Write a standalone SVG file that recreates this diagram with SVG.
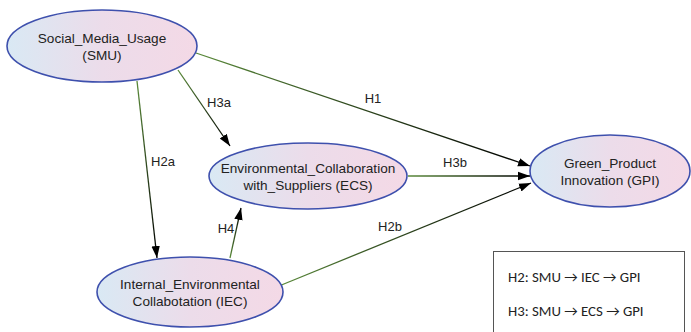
<svg xmlns="http://www.w3.org/2000/svg" width="691" height="332" viewBox="0 0 691 332">
<defs>
<linearGradient id="fillg" x1="0" y1="0" x2="1" y2="0">
<stop offset="0" stop-color="#d9e9f4"/>
<stop offset="0.5" stop-color="#ecdcea"/>
<stop offset="1" stop-color="#f4d9e6"/>
</linearGradient>
<marker id="arr" viewBox="0 0 12 10" refX="12" refY="5" markerWidth="12" markerHeight="10" markerUnits="userSpaceOnUse" orient="auto">
<path d="M0,0.8 L12,5 L0,9.2 z" fill="#000"/>
</marker>
<linearGradient id="g1" gradientUnits="userSpaceOnUse" x1="196" y1="53" x2="530" y2="166"><stop offset="0" stop-color="#5a8a3a"/><stop offset="1" stop-color="#000"/></linearGradient>
<linearGradient id="g2" gradientUnits="userSpaceOnUse" x1="178" y1="70" x2="230" y2="146"><stop offset="0" stop-color="#5a8a3a"/><stop offset="1" stop-color="#000"/></linearGradient>
<linearGradient id="g3" gradientUnits="userSpaceOnUse" x1="137" y1="81" x2="157" y2="258"><stop offset="0" stop-color="#5a8a3a"/><stop offset="1" stop-color="#000"/></linearGradient>
<linearGradient id="g4" gradientUnits="userSpaceOnUse" x1="408" y1="176" x2="530" y2="176"><stop offset="0" stop-color="#5a8a3a"/><stop offset="1" stop-color="#000"/></linearGradient>
<linearGradient id="g5" gradientUnits="userSpaceOnUse" x1="230" y1="258" x2="241" y2="208"><stop offset="0" stop-color="#5a8a3a"/><stop offset="1" stop-color="#000"/></linearGradient>
<linearGradient id="g6" gradientUnits="userSpaceOnUse" x1="279" y1="286" x2="531" y2="183"><stop offset="0" stop-color="#5a8a3a"/><stop offset="1" stop-color="#000"/></linearGradient>
</defs>
<style>
.node ellipse{fill:url(#fillg);stroke:#3e50ad;stroke-width:1.6}
.node text{font-family:"Liberation Sans",Arial,sans-serif;font-size:13.6px;fill:#222;text-anchor:middle}
.edge line{stroke-width:1.3;marker-end:url(#arr)}
.lbl{font-family:"Liberation Sans",Arial,sans-serif;font-size:13px;fill:#222;text-anchor:middle}
.box text{font-family:Carlito,"Open Sans","Liberation Sans",sans-serif;font-size:14.8px;fill:#222}
</style>
<rect width="691" height="332" fill="#fff"/>
<g id="connectors" class="edge">
<line x1="196" y1="53" x2="530" y2="166" stroke="url(#g1)"/>
<line x1="178" y1="70" x2="230" y2="146" stroke="url(#g2)"/>
<line x1="137" y1="81" x2="157" y2="258" stroke="url(#g3)"/>
<line x1="408" y1="176" x2="530" y2="176" stroke="url(#g4)"/>
<line x1="230" y1="258" x2="241" y2="208" stroke="url(#g5)"/>
<line x1="279" y1="286" x2="531" y2="183" stroke="url(#g6)"/>
<text class="lbl" x="373" y="103">H1</text>
<text class="lbl" x="219" y="107">H3a</text>
<text class="lbl" x="163" y="166">H2a</text>
<text class="lbl" x="455" y="167">H3b</text>
<text class="lbl" x="226" y="233">H4</text>
<text class="lbl" x="390" y="231">H2b</text>
</g>
<g id="SMU" class="node">
<ellipse cx="102" cy="46" rx="95" ry="36"/>
<text x="102" y="43">Social_Media_Usage</text>
<text x="102" y="60">(SMU)</text>
</g>
<g id="ECS" class="node">
<ellipse cx="308" cy="176" rx="99" ry="33"/>
<text x="308" y="173">Environmental_Collaboration</text>
<text x="308" y="190">with_Suppliers (ECS)</text>
</g>
<g id="GPI" class="node">
<ellipse cx="610" cy="171" rx="80" ry="36"/>
<text x="610" y="168">Green_Product</text>
<text x="610" y="185">Innovation (GPI)</text>
</g>
<g id="IEC" class="node">
<ellipse cx="190" cy="292" rx="93" ry="35"/>
<text x="190" y="289">Internal_Environmental</text>
<text x="190" y="306">Collabotation (IEC)</text>
</g>
<g id="legend" class="box">
<rect x="493.5" y="251.5" width="191" height="90" fill="#fff" stroke="#555" stroke-width="1"/>
<text x="508" y="282">H2: SMU → IEC → GPI</text>
<text x="508" y="316">H3: SMU → ECS → GPI</text>
</g>
</svg>
